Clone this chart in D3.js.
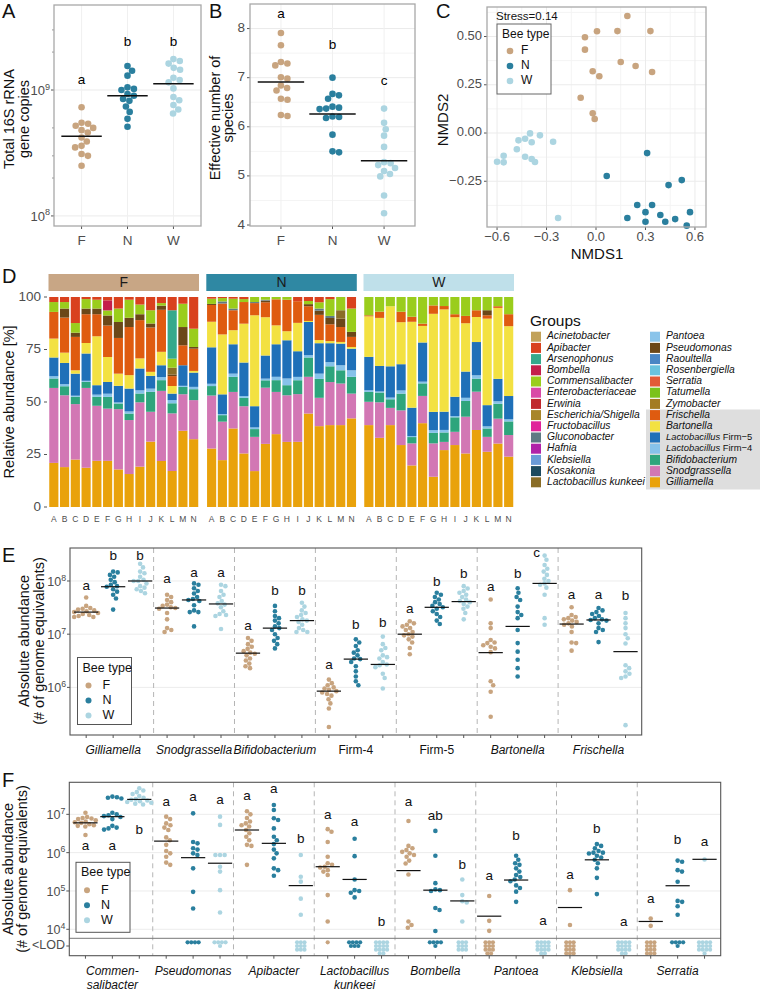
<!DOCTYPE html>
<html><head><meta charset="utf-8">
<script src="https://cdn.jsdelivr.net/npm/d3@7"></script>
<style>body{margin:0;background:#fff;} svg{display:block;}</style>
</head><body><svg id="c" width="760" height="992"></svg>
<script>
// ---------------- DATA ----------------
const beeTypes = ["F","N","W"];
const beeColor = {F:"#c8a47f", N:"#2a7f9e", W:"#acd5e1"};

// Panel A: total 16S rRNA gene copies
const aF = [7.3e8,5.5e8,5.4e8,5.2e8,5.0e8,4.8e8,4.6e8,4.2e8,3.9e8,3.6e8,3.5e8,3.1e8,3.0e8,2.5e8];
const aN = [1.55e9,1.42e9,1.3e9,1.05e9,1.02e9,1.0e9,9.3e8,9.0e8,8.5e8,8.2e8,7.4e8,6.7e8,5.9e8,5.1e8];
const aW = [1.76e9,1.7e9,1.62e9,1.5e9,1.45e9,1.25e9,1.2e9,1.15e9,1.03e9,8.8e8,8.3e8,7.6e8,7.0e8,6.5e8];
const aMedians = [4.3e8, 9.0e8, 1.12e9];
const aLetters = ["a","b","b"];
const aLetterY = [1.2e9, 2.37e9, 2.37e9];

// Panel B: effective number of species
const bF = [7.91,7.66,7.32,7.29,7.25,7.01,6.98,6.84,6.79,6.74,6.57,6.55,6.24,6.22];
const bN = [7.0,6.67,6.64,6.57,6.41,6.39,6.37,6.36,6.21,6.2,6.18,5.84,5.5,5.48];
const bW = [6.37,6.08,5.95,5.82,5.59,5.28,5.26,5.22,5.16,5.1,5.04,4.99,4.6,4.24];
const bMedians = [6.91, 6.26, 5.31];
const bLetters = ["a","b","c"];
const bLetterY = [8.29, 7.66, 6.92];

// Panel C: NMDS
const cFx = [-0.067,0.006,-0.067,-0.02,0.02,-0.093,-0.02,-0.008,0.19,0.13,0.33,0.15,0.24,0.34];
const cFy = [0.496,0.527,0.432,0.32,0.294,0.183,0.102,0.073,0.606,0.528,0.528,0.368,0.347,0.316];
const cNx = [0.065,0.31,0.52,0.44,0.25,0.34,0.3,0.39,0.57,0.48,0.19,0.3,0.42,0.55];
const cNy = [-0.223,-0.104,-0.244,-0.27,-0.373,-0.373,-0.41,-0.425,-0.41,-0.446,-0.44,-0.46,-0.46,-0.48];
const cWx = [-0.60,-0.56,-0.56,-0.48,-0.47,-0.43,-0.40,-0.39,-0.43,-0.39,-0.37,-0.34,-0.26,-0.23];
const cWy = [-0.149,-0.118,-0.152,-0.084,-0.038,-0.030,-0.002,-0.048,-0.123,-0.135,-0.150,-0.012,-0.045,-0.44];
const cXTicks = [-0.6,-0.3,0,0.3,0.6];
const cYTicks = [-0.25,0,0.25,0.5];

// Panel D: relative abundance (bars F A..N, N A..N, W A..N)
const groupNames = ["Acinetobacter","Apibacter","Arsenophonus","Bombella","Commensalibacter","Enterobacteriaceae","Erwinia","Escherichia/Shigella","Fructobacillus","Gluconobacter","Hafnia","Klebsiella","Kosakonia","Lactobacillus kunkeei","Pantoea","Pseudomonas","Raoultella","Rosenbergiella","Serratia","Tatumella","Zymobacter","Frischella","Bartonella","Lactobacillus Firm\u22125","Lactobacillus Firm\u22124","Bifidobacterium","Snodgrassella","Gilliamella"];
const groupColors = ["#c2a25a","#d9411e","#35a98c","#c41f4b","#9acd1c","#d94aa6","#c0282e","#a8862a","#e0239a","#5f7a84","#b023a8","#6a9bd8","#1c4a5f","#8a6d27","#8ac4ea","#6b4718","#4a86c4","#6ac3de","#e25b37","#7ac21a","#a37c22","#df5b10","#f3e142","#1f70b8","#86c2ea","#2ea57c","#d277b4","#e9a20b"];
const dSamples = ["A","B","C","D","E","F","G","H","I","J","K","L","M","N"];
const dGilliamella = [21,19,22.6,18.7,22,22,17.9,15.7,19.2,31.1,21.9,17.1,36.3,32.3, 27.9,22.3,37.4,25.5,17.1,30,34.7,31,31,44.5,38.5,39,39,42.2, 39,33.1,39,29.5,19.8,40,14.4,27.1,29.5,25.5,36.6,26.3,30.3,24];
const dSnodgrassella = [35.7,34.2,26.4,38,26.2,24.9,28.7,25.7,30.6,14.2,33.4,27.4,17.4,18.6, 25.3,18.3,17.4,22.5,16.3,26.7,20.1,22.2,22.7,17.5,13.5,20.5,19.8,11.8, 11.1,17,8.2,16.5,10.5,13,15.9,3.9,6.3,17.5,18.2,7.1,11.9,10.3];
const dBifidobacterium = [4.5,4.3,3.5,2.9,4.3,5.6,2.7,3.1,4.2,9.5,5.1,4.8,3.5,5.2, 4.5,3.1,7.2,4,3.7,3.5,5.6,4.8,6.6,9.2,9,7.5,6.3,8, 4.7,4.7,4.1,8,3,6,5,4.5,6.9,7.5,6.2,4,7.1,6.5];
const dFirm4 = [1.1,1,0.5,0.5,1,1.5,0.5,1,1.5,1.5,1.5,1.5,0.5,1.1, 1.1,0.5,1.5,0.8,0.8,0.8,1.6,3.2,1.6,1.1,2.5,2,2.4,3.1, 0.8,0.5,0.8,1.5,0.5,0.8,1.3,1.2,0.6,1.5,1.6,1,1.2,1];
const dFirm5 = [8.9,10.1,10.5,13,4.5,5.6,7.9,10.9,10.4,6.1,5.6,3.1,9.8,6.8, 17.4,9.4,14,16,10.1,11,15.5,18.2,12.2,15.8,14.5,9,10.3,10.3, 15.9,12.2,14.9,12.5,13.5,18.7,8.7,8.7,9.2,12.5,15.8,10.1,10.7,11.1];
const dBartonella = [9,4.9,1.6,5,23.3,11.9,5.8,6.4,4.8,1.9,6.4,3.6,0,0.8, 12.2,28.5,6.7,18.5,43.3,18.2,9,4.3,13.5,0.5,1.5,1,0.8,0.8, 19.3,23,28.6,20,40.9,7.9,46.7,48.7,37.9,23,11.9,41.2,33.9,33.3];
const dFrischella = [12.7,16.7,15.9,13.7,10.5,15,17,22.9,18.2,21.1,20,4.7,9.5,10.6, 8,14.7,9.5,10.3,5.8,7.1,12.4,15,10.3,7,12,8,7.1,4.8, 0.5,3,0,5,2.4,1.1,4,1.6,1.4,3.5,3.2,1.6,0.8,5.7];
const dPseudomonas = [0,4.3,2,2.7,2.7,4.8,7.6,4.4,2.8,1.9,2,0.8,8.7,0.8, 0.5,0,0,0,0,0.8,0,0,0,1,2,3,4,2.4, 0,0,0,0,0,0,0,0,0,0,0,2.4,0,0];
const dKunkeei = [0,0,0,0,0,0,0,0,0,0,0,3.2,0,0, 0,0,0,0,0,0,0,0,0,0,0,0,4,0, 0,0,0,0,0,0,0,0,0,0,0,0,0,0];
const dCommensalibacter = [4.7,3.1,4.6,4.5,4.2,2.4,6.4,8.6,4.6,6.3,1.2,4.3,11.1,8.7, 2.5,1.6,4.7,1.4,2.4,1.3,1.1,1.3,0,1.5,3,8,6.3,11.1, 8.7,7,4.4,7,9.4,12.7,4,4.3,8.2,9,6.3,6.3,4.4,8.2];
const dGluconobacter = [0,0,0,0,0,0,0,0,0,0,0,0,0,0, 0,1,0.8,0,0.5,0.4,0,0,0,0,1,1,0,0, 0,0,0,0,0,0,0,0,0,0,0,0,0,0];
const dArsenophonus = [0,0,0,0,0,0,0,0,0,0,0,23,0,0, 0,0,0,0,0,0,0,0,0,0,0,0,0,0, 0,0,0,0,0,0,0,0,0,0,0,0,0,0];
const dBombella = [0,0,0,0,0,4.8,0,0,0,0,0,0,0,0, 0,0,0,0,0,0,0,0,0,0,0,0,0,0, 0,0,0,0,0,0,0,0,0,0,0,0,0,0];
const dApibacter = [2.4,2.4,12.4,1,1.3,1.6,5.5,1.3,3.6,6.3,2.9,6.3,3.2,15.1, 0.8,0.5,0.8,1,0,0,0,0,2,1.9,2.5,1,0,5.5, 0,0,0,0,0,0,0,0,0,0,0,0,0,0];

// Panel E: absolute abundance core members [F, N, W]
const eGroups = ["Gilliamella","Snodgrassella","Bifidobacterium","Firm-4","Firm-5","Bartonella","Frischella"];
const eGilliamella = [[4.9e7,3.4e7,3.1e7,3.0e7,2.9e7,2.8e7,2.7e7,2.6e7,2.5e7,2.4e7,2.3e7,2.2e7,2.1e7,2.1e7],[1.5e8,1.45e8,1.3e8,1.2e8,1.05e8,9.5e7,8.5e7,8.0e7,7.8e7,7.0e7,6.3e7,5.5e7,4.7e7,2.9e7],[2.1e8,1.8e8,1.5e8,1.4e8,1.2e8,1.05e8,1.0e8,1.0e8,9.0e7,8.0e7,7.5e7,7.0e7,6.5e7,5.9e7]];
const eSnodgrassella = [[5.5e7,5.0e7,4.4e7,4.0e7,3.6e7,3.4e7,3.2e7,3.1e7,3.0e7,2.5e7,1.9e7,1.3e7,1.2e7,1.1e7],[9e7,8.5e7,7.3e7,6.5e7,5.8e7,5.0e7,4.6e7,4.4e7,4.2e7,3.5e7,2.8e7,2.6e7,2.6e7,1.4e7],[8.5e7,8.0e7,6.5e7,5.5e7,5.0e7,4.2e7,3.8e7,3.6e7,3.2e7,2.7e7,2.4e7,2.3e7,2.2e7,1.25e7]];
const eBifidobacterium = [[8.5e6,7.5e6,6.5e6,5.8e6,5.3e6,4.8e6,4.5e6,4.3e6,4.0e6,3.5e6,3.2e6,2.8e6,2.5e6,2.3e6],[3.4e7,2.7e7,2.2e7,2.0e7,1.8e7,1.6e7,1.4e7,1.3e7,1.2e7,1.0e7,8.5e6,7.5e6,6.5e6,5.4e6],[3.9e7,3.3e7,2.8e7,2.5e7,2.3e7,2.1e7,1.9e7,1.8e7,1.7e7,1.5e7,1.3e7,1.2e7,1.1e7,1.1e7]];
const eFirm4 = [[1.4e6,1.2e6,1.1e6,1.0e6,9.5e5,9e5,8.5e5,8e5,7.5e5,7e5,6e5,5e5,4e5,1.8e5],[8e6,7e6,6e6,5e6,4.5e6,4e6,3.5e6,3.4e6,3e6,2.5e6,2e6,1.6e6,1.3e6,1.1e6],[9e6,6.5e6,5.5e6,5e6,4e6,3.7e6,3.5e6,3e6,2.7e6,2.6e6,2.4e6,1.8e6,1.5e6,9.5e5]];
const eFirm5 = [[1.75e7,1.6e7,1.5e7,1.4e7,1.3e7,1.2e7,1.1e7,1.0e7,9.5e6,9e6,8e6,7e6,5.5e6,4.2e6],[6e7,5.5e7,5e7,4.5e7,4e7,3.7e7,3.4e7,3.2e7,3e7,2.7e7,2.4e7,2.1e7,1.8e7,1.55e7],[8e7,7.2e7,6.5e7,6e7,5.5e7,5e7,4.5e7,4.2e7,4e7,3.7e7,3.3e7,3e7,2.5e7,1.9e7]];
const eBartonella = [[4.5e7,1.6e7,1.3e7,7.8e6,7e6,6.8e6,6.2e6,5.8e6,5.4e6,4.6e6,1.3e6,1.1e6,8.3e5,2.8e5],[7.3e7,6e7,5e7,4.4e7,3.3e7,2.6e7,2.3e7,2e7,1.2e7,6.8e6,4.7e6,3.3e6,2.3e6,1.6e6],[3e8,2.5e8,2e8,1.7e8,1.5e8,1.3e8,1.1e8,1e8,9e7,8.5e7,7.5e7,5.5e7,2e7,1.5e7]];
const eFrischella = [[3.2e7,2.3e7,2.1e7,2e7,1.9e7,1.8e7,1.7e7,1.6e7,1.5e7,1.4e7,1.1e7,7e6,6.8e6,4.9e6],[3.1e7,2.8e7,2.6e7,2.4e7,2.2e7,2e7,1.9e7,1.85e7,1.8e7,1.6e7,1.3e7,1.2e7,1.1e7,7.1e6],[2.5e7,2e7,1.6e7,1.3e7,1e7,8.4e6,6.7e6,2.6e6,2.3e6,2e6,1.8e6,1.6e6,1.5e6,1.95e5]];
const eMedians = [[2.6e7,7.8e7,1.0e8],[3.1e7,4.4e7,3.7e7],[4.4e6,1.3e7,1.8e7],[8.5e5,3.4e6,2.7e6],[1.0e7,3.2e7,4.1e7],[4.5e6,1.4e7,9e7],[1.55e7,1.85e7,4.7e6]];
const eLetters = [["a","b","b"],["a","a","a"],["a","b","b"],["a","b","b"],["a","b","b"],["a","b","c"],["a","a","b"]];
const eLetterLog = [[7.893,8.457,8.457],[8.032,8.145,8.145],[7.141,7.8,7.8],[6.42,7.173,7.205],[7.468,7.976,8.13],[7.88,8.13,8.51],[7.737,7.737,7.705]];

// Panel F: absolute abundance non-core members [F, N, W]; 0 = below limit of detection
const fGroups = ["Commensalibacter","Pseudomonas","Apibacter","Lactobacillus kunkeei","Bombella","Pantoea","Klebsiella","Serratia"];
const fCommensalibacter = [[1.1e7,8.5e6,8e6,7.8e6,7.5e6,7e6,6.5e6,6.2e6,6e6,5.5e6,5.2e6,5e6,4.8e6,2.9e6],[2.9e7,2.8e7,2.7e7,2.6e7,1.1e7,1e7,9.5e6,9e6,8.5e6,7.5e6,5e6,4.5e6,4.3e6,4e6],[4.8e7,4.2e7,3.8e7,3.4e7,3e7,2.7e7,2.5e7,2.4e7,2.3e7,2.2e7,2.1e7,2e7,1.9e7,1.8e7]];
const fPseudomonas = [[8.7e6,7.5e6,5.8e6,5.2e6,4.5e6,3.9e6,2.5e6,2.1e6,1.6e6,1.1e6,9.6e5,7.8e5,5.5e5,4.8e5],[1.06e7,1.9e6,1.75e6,1.3e6,1.2e6,9.6e5,8.7e5,3.9e5,9.5e4,3.5e4,0,0,0,0],[8.7e6,5.3e6,8.7e5,8.7e5,8.7e5,4.3e5,3.2e5,1.05e5,2.75e4,0,0,0,0,0]];
const fApibacter = [[1.2e7,1e7,8e6,6.5e6,5.8e6,5.2e6,4.8e6,3.9e6,3.2e6,2.6e6,2.1e6,1.6e6,1.5e6,4.8e5],[1.75e7,1.3e7,7.9e6,7.1e6,4.3e6,2.6e6,2.1e6,1.67e6,1.2e6,9.6e5,7.1e5,3.9e5,3.5e5,2.5e5],[8.7e5,2.35e5,1.75e5,6.3e4,2.4e4,0,0,0,0,0,0,0,0,0]];
const fKunkeei = [[4.1e6,3.5e6,1.9e6,7.8e5,5.3e5,4.8e5,4.3e5,4.1e5,3.5e5,3.2e5,2.6e5,7.8e4,1.6e4,0],[2.3e6,8.1e5,2e5,1.05e5,1e5,9e4,6.8e4,0,0,0,0,0,0,0],[0,0,0,0,0,0,0,0,0,0,0,0,0,0]];
const fBombella = [[6.7e6,1.5e6,1.3e6,1.17e6,1.05e6,9.6e5,8.7e5,7.8e5,6.2e5,5.2e5,2.7e5,1.6e4,1.3e4,1.1e4],[3.7e6,8.3e5,1.6e5,1.1e5,1.05e5,1e5,3.6e4,3.2e4,9e3,0,0,0,0,0],[2e5,7.8e4,5.4e4,5e4,1.6e4,0,0,0,0,0,0,0,0,0]];
const fPantoea = [[7.4e4,1.66e4,9.1e3,0,0,0,0,0,0,0,0,0,0,0],[8.3e5,6.5e5,5.3e5,4.8e5,3.9e5,3.2e5,2.6e5,2.3e5,2e5,1.8e5,1.4e5,1.2e5,9.6e4,5.2e4],[0,0,0,0,0,0,0,0,0,0,0,0,0,0]];
const fKlebsiella = [[1.05e5,1.3e4,0,0,0,0,0,0,0,0,0,0,0,0],[1.67e6,1.5e6,1.3e6,1.1e6,1e6,1e6,9.5e5,8.3e5,7.5e5,6.5e5,5.3e5,3.9e5,2.2e5,8.3e4],[0,0,0,0,0,0,0,0,0,0,0,0,0,0]];
const fSerratia = [[1.9e4,1.23e4,0,0,0,0,0,0,0,0,0,0,0,0],[6.2e5,5.8e5,3.5e5,3.2e5,1.74e5,5.5e4,5.2e4,4e4,2.4e4,0,0,0,0,0],[6.6e5,0,0,0,0,0,0,0,0,0,0,0,0,0]];
const fMedians = [[6e6,8.7e6,2.45e7],[2e6,7.4e5,5.3e5],[3.9e6,1.75e6,1.38e5],[4.3e5,2e5,null],[3.4e5,1.05e5,5.5e4],[2.2e4,1.93e5,null],[3.7e4,6.5e5,null],[1.6e4,1.37e5,6.7e5]];
const fLetters = [["a","a","b"],["a","a","a"],["a","a","b"],["a","a","b"],["a","ab","b"],["a","b","a"],["a","b","a"],["a","b","a"]];
const fLetterLog = [[6.172,6.172,6.59],[7.303,7.444,7.373],[7.478,7.653,6.347],[6.982,6.781,4.17],[7.313,6.937,5.658],[5.371,6.433,4.196],[5.397,6.608,4.18],[4.781,6.311,6.269]];

// ---------------- DRAWING ----------------
const FONT = "'Liberation Sans', Arial, Helvetica, sans-serif";
const TXT = "#4d4d4d";
const svg = d3.select("#c").attr("font-family", FONT);

function swarm(vals, yFn, r) {
  const d = 2 * r;
  const pts = vals.map(v => ({v, y: yFn(v)})).sort((a, b) => a.y - b.y);
  const placed = [];
  for (const p of pts) {
    const near = placed.filter(q => Math.abs(q.y - p.y) < d);
    const cands = [0];
    for (const q of near) {
      const dx = Math.sqrt(d * d - (q.y - p.y) ** 2);
      cands.push(q.dx + dx + 0.01, q.dx - dx - 0.01);
    }
    cands.sort((a, b) => Math.abs(a) - Math.abs(b) || b - a);
    let best = 0;
    for (const c of cands) {
      if (near.every(q => (q.dx - c) ** 2 + (q.y - p.y) ** 2 >= d * d - 0.05)) { best = c; break; }
    }
    p.dx = best; placed.push(p);
  }
  return placed;
}

function powLabel(g, x, y, exp, size) {
  const t = g.append("text").attr("x", x).attr("y", y).attr("text-anchor", "end")
    .attr("font-size", size).attr("fill", TXT);
  t.append("tspan").text("10");
  t.append("tspan").attr("dy", -size * 0.42).attr("font-size", size * 0.7).text(exp);
  return t;
}

function panelLetter(txt, x, y) {
  svg.append("text").attr("x", x).attr("y", y).attr("font-size", 20).attr("fill", "#111").text(txt);
}

function rotTitle(lines, xs, cy, size) {
  lines.forEach((l, i) => {
    svg.append("text").attr("transform", `translate(${xs[i]},${cy}) rotate(-90)`)
      .attr("text-anchor", "middle").attr("dominant-baseline", "middle")
      .attr("font-size", size).attr("fill", "#111").text(l);
  });
}

// ---------- Panel A ----------
(function () {
  const g = svg.append("g");
  const x0 = 54, x1 = 201, y0 = 5, y1 = 226;
  const x = d3.scalePoint().domain(beeTypes).range([x0, x1]).padding(0.6);
  const y = d3.scaleLog().domain([Math.pow(10, 7.92), Math.pow(10, 9.675)]).range([y1, y0]);
  const step = x.step();
  [1e8, 1e9].forEach(v => g.append("line").attr("x1", x0).attr("x2", x1).attr("y1", y(v)).attr("y2", y(v)).attr("stroke", "#ebebeb"));
  beeTypes.forEach(b => g.append("line").attr("x1", x(b)).attr("x2", x(b)).attr("y1", y0).attr("y2", y1).attr("stroke", "#f0f0f0"));
  const sets = [aF, aN, aW];
  beeTypes.forEach((b, i) => {
    swarm(sets[i], y, 3.3).forEach(p => g.append("circle").attr("cx", x(b) + p.dx).attr("cy", p.y).attr("r", 3.3).attr("fill", beeColor[b]));
    g.append("line").attr("x1", x(b) - 0.44 * step).attr("x2", x(b) + 0.44 * step)
      .attr("y1", y(aMedians[i])).attr("y2", y(aMedians[i])).attr("stroke", "#111").attr("stroke-width", 1.5);
    g.append("text").attr("x", x(b)).attr("y", y(aLetterY[i])).attr("text-anchor", "middle")
      .attr("dominant-baseline", "middle").attr("font-size", 13.5).text(aLetters[i]);
    g.append("line").attr("x1", x(b)).attr("x2", x(b)).attr("y1", y1).attr("y2", y1 + 3).attr("stroke", "#555");
    g.append("text").attr("x", x(b)).attr("y", 245).attr("text-anchor", "middle").attr("font-size", 13.5).attr("fill", TXT).text(b);
  });
  [2e8, 3e8, 5e8, 2e9, 3e9].forEach(v => g.append("line").attr("x1", x0 - 2).attr("x2", x0).attr("y1", y(v)).attr("y2", y(v)).attr("stroke", "#999"));
  [[1e8, 8], [1e9, 9]].forEach(([v, e]) => {
    g.append("line").attr("x1", x0 - 3).attr("x2", x0).attr("y1", y(v)).attr("y2", y(v)).attr("stroke", "#555");
    powLabel(g, 50, y(v) + 5, e, 13);
  });
  g.append("rect").attr("x", x0).attr("y", y0).attr("width", x1 - x0).attr("height", y1 - y0)
    .attr("fill", "none").attr("stroke", "#a8a8a8").attr("stroke-width", 1.3);
  rotTitle(["Total 16S rRNA", "gene copies"], [10, 25], 119, 14.5);
  panelLetter("A", 2, 18);
})();

// ---------- Panel B ----------
(function () {
  const g = svg.append("g");
  const x0 = 250, x1 = 415, y0 = 4, y1 = 226;
  const x = d3.scalePoint().domain(beeTypes).range([x0, x1]).padding(0.6);
  const y = d3.scaleLinear().domain([3.98, 8.5]).range([y1, y0]);
  const step = x.step();
  [4.5, 5.5, 6.5, 7.5].forEach(v => g.append("line").attr("x1", x0).attr("x2", x1).attr("y1", y(v)).attr("y2", y(v)).attr("stroke", "#f4f4f4"));
  [5, 6, 7, 8].forEach(v => g.append("line").attr("x1", x0).attr("x2", x1).attr("y1", y(v)).attr("y2", y(v)).attr("stroke", "#ebebeb"));
  beeTypes.forEach(b => g.append("line").attr("x1", x(b)).attr("x2", x(b)).attr("y1", y0).attr("y2", y1).attr("stroke", "#f0f0f0"));
  const sets = [bF, bN, bW];
  beeTypes.forEach((b, i) => {
    swarm(sets[i], y, 3.3).forEach(p => g.append("circle").attr("cx", x(b) + p.dx).attr("cy", p.y).attr("r", 3.3).attr("fill", beeColor[b]));
    g.append("line").attr("x1", x(b) - 0.45 * step).attr("x2", x(b) + 0.45 * step)
      .attr("y1", y(bMedians[i])).attr("y2", y(bMedians[i])).attr("stroke", "#111").attr("stroke-width", 1.5);
    g.append("text").attr("x", x(b)).attr("y", y(bLetterY[i])).attr("text-anchor", "middle")
      .attr("dominant-baseline", "middle").attr("font-size", 13.5).text(bLetters[i]);
    g.append("line").attr("x1", x(b)).attr("x2", x(b)).attr("y1", y1).attr("y2", y1 + 3).attr("stroke", "#555");
    g.append("text").attr("x", x(b)).attr("y", 245).attr("text-anchor", "middle").attr("font-size", 13.5).attr("fill", TXT).text(b);
  });
  [4, 5, 6, 7, 8].forEach(v => {
    g.append("line").attr("x1", x0 - 3).attr("x2", x0).attr("y1", y(v)).attr("y2", y(v)).attr("stroke", "#555");
    g.append("text").attr("x", 245).attr("y", y(v)).attr("text-anchor", "end").attr("dominant-baseline", "middle")
      .attr("font-size", 13.5).attr("fill", TXT).text(v);
  });
  g.append("rect").attr("x", x0).attr("y", y0).attr("width", x1 - x0).attr("height", y1 - y0)
    .attr("fill", "none").attr("stroke", "#a8a8a8").attr("stroke-width", 1.3);
  rotTitle(["Effective number of", "species"], [216, 229], 118, 14.5);
  panelLetter("B", 209, 18);
})();

// ---------- Panel C ----------
(function () {
  const g = svg.append("g");
  const x0 = 487, x1 = 706, y0 = 7, y1 = 227;
  const x = d3.scaleLinear().domain([-0.661, 0.667]).range([x0, x1]);
  const y = d3.scaleLinear().domain([-0.487, 0.653]).range([y1, y0]);
  [-0.45, -0.15, 0.15, 0.45].forEach(v => g.append("line").attr("x1", x(v)).attr("x2", x(v)).attr("y1", y0).attr("y2", y1).attr("stroke", "#f4f4f4"));
  [-0.375, -0.125, 0.125, 0.375, 0.625].forEach(v => g.append("line").attr("x1", x0).attr("x2", x1).attr("y1", y(v)).attr("y2", y(v)).attr("stroke", "#f4f4f4"));
  cXTicks.forEach(v => g.append("line").attr("x1", x(v)).attr("x2", x(v)).attr("y1", y0).attr("y2", y1).attr("stroke", "#ebebeb"));
  cYTicks.forEach(v => g.append("line").attr("x1", x0).attr("x2", x1).attr("y1", y(v)).attr("y2", y(v)).attr("stroke", "#ebebeb"));
  const sets = [[cFx, cFy], [cNx, cNy], [cWx, cWy]];
  beeTypes.forEach((b, i) => {
    sets[i][0].forEach((vx, j) => g.append("circle").attr("cx", x(vx)).attr("cy", y(sets[i][1][j])).attr("r", 3.3).attr("fill", beeColor[b]));
  });
  const fmt = v => (v < 0 ? "\u2212" : "") + Math.abs(v).toFixed(1);
  const fmtY = v => (v < 0 ? "\u2212" : "") + Math.abs(v).toFixed(2);
  cXTicks.forEach(v => {
    g.append("line").attr("x1", x(v)).attr("x2", x(v)).attr("y1", y1).attr("y2", y1 + 3).attr("stroke", "#555");
    g.append("text").attr("x", x(v)).attr("y", 241).attr("text-anchor", "middle").attr("font-size", 13).attr("fill", TXT).text(fmt(v));
  });
  cYTicks.forEach(v => {
    g.append("line").attr("x1", x0 - 3).attr("x2", x0).attr("y1", y(v)).attr("y2", y(v)).attr("stroke", "#555");
    g.append("text").attr("x", 482).attr("y", y(v)).attr("text-anchor", "end").attr("dominant-baseline", "middle")
      .attr("font-size", 13).attr("fill", TXT).text(fmtY(v));
  });
  g.append("rect").attr("x", x0).attr("y", y0).attr("width", x1 - x0).attr("height", y1 - y0)
    .attr("fill", "none").attr("stroke", "#a8a8a8").attr("stroke-width", 1.3);
  // legend
  g.append("text").attr("x", 496).attr("y", 20).attr("font-size", 11.5).attr("fill", "#111").text("Stress=0.14");
  g.append("rect").attr("x", 497).attr("y", 24).attr("width", 54).attr("height", 70).attr("fill", "#fff").attr("stroke", "#666");
  g.append("text").attr("x", 502).attr("y", 38).attr("font-size", 12).attr("fill", "#111").text("Bee type");
  beeTypes.forEach((b, i) => {
    g.append("circle").attr("cx", 510).attr("cy", 51 + i * 15).attr("r", 3.3).attr("fill", beeColor[b]);
    g.append("text").attr("x", 521).attr("y", 51 + i * 15).attr("dominant-baseline", "middle").attr("font-size", 12).attr("fill", "#111").text(b);
  });
  svg.append("text").attr("x", 597).attr("y", 259).attr("text-anchor", "middle").attr("font-size", 15).attr("fill", "#111").text("NMDS1");
  rotTitle(["NMDS2"], [444], 120, 15);
  panelLetter("C", 436, 18);
})();

// ---------- Panel D ----------
(function () {
  const g = svg.append("g");
  const series = {
    "Gilliamella": dGilliamella, "Snodgrassella": dSnodgrassella, "Bifidobacterium": dBifidobacterium,
    "Lactobacillus Firm\u22124": dFirm4, "Lactobacillus Firm\u22125": dFirm5, "Bartonella": dBartonella,
    "Frischella": dFrischella, "Pseudomonas": dPseudomonas, "Lactobacillus kunkeei": dKunkeei,
    "Gluconobacter": dGluconobacter, "Commensalibacter": dCommensalibacter, "Bombella": dBombella,
    "Arsenophonus": dArsenophonus, "Apibacter": dApibacter
  };
  const keys = groupNames.slice().reverse();
  const color = d3.scaleOrdinal().domain(groupNames).range(groupColors);
  const rows = d3.range(42).map(i => { const r = {}; keys.forEach(k => r[k] = series[k] ? series[k][i] : 0); return r; });
  const stacked = d3.stack().keys(keys).offset(d3.stackOffsetExpand)(rows);
  const y = d3.scaleLinear().domain([0, 1]).range([507, 297]);
  const facetRanges = {F: [48.5, 199], N: [206.3, 356.8], W: [363.5, 514]};
  const stripCol = {F: "#c8a685", N: "#2f88a3", W: "#bfe0ea"};
  const bandOf = {};
  beeTypes.forEach(b => {
    const [a, c] = facetRanges[b];
    bandOf[b] = d3.scaleBand().domain(dSamples).range([a, c]).paddingInner(0.15).paddingOuter(0.07);
    g.append("rect").attr("x", a).attr("y", 274).attr("width", c - a).attr("height", 17).attr("fill", stripCol[b]);
    g.append("text").attr("x", (a + c) / 2).attr("y", 283).attr("text-anchor", "middle").attr("dominant-baseline", "middle")
      .attr("font-size", 14).attr("fill", "#1a1a1a").text(b);
  });
  stacked.forEach(layer => {
    layer.forEach((seg, i) => {
      if (seg[1] - seg[0] <= 0) return;
      const b = beeTypes[Math.floor(i / 14)], s = dSamples[i % 14];
      const band = bandOf[b];
      g.append("rect").attr("x", band(s)).attr("width", band.bandwidth())
        .attr("y", y(seg[1])).attr("height", y(seg[0]) - y(seg[1])).attr("fill", color(layer.key));
    });
  });
  beeTypes.forEach(b => dSamples.forEach(s => {
    const band = bandOf[b];
    g.append("text").attr("x", band(s) + band.bandwidth() / 2).attr("y", 522).attr("text-anchor", "middle")
      .attr("font-size", 8.5).attr("fill", TXT).text(s);
  }));
  [0, 25, 50, 75, 100].forEach(v => {
    g.append("line").attr("x1", 44).attr("x2", 47).attr("y1", y(v / 100)).attr("y2", y(v / 100)).attr("stroke", "#555");
    g.append("text").attr("x", 41).attr("y", y(v / 100)).attr("text-anchor", "end").attr("dominant-baseline", "middle")
      .attr("font-size", 13.5).attr("fill", TXT).text(v);
  });
  rotTitle(["Relative abundance [%]"], [10], 402, 14.5);
  panelLetter("D", 2, 283);
  // legend
  g.append("rect").attr("x", 646).attr("y", 409.5).attr("width", 114).attr("height", 80).attr("fill", "#dedede");
  g.append("text").attr("x", 530).attr("y", 326).attr("font-size", 15.5).attr("fill", "#111").text("Groups");
  groupNames.forEach((name, i) => {
    const col = i < 14 ? 0 : 1, row = i % 14;
    const kx = col === 0 ? 531 : 650, ky = 336.7 + row * 11.2;
    g.append("rect").attr("x", kx).attr("y", ky - 5).attr("width", 10).attr("height", 10).attr("fill", groupColors[i]);
    const isFirm = name.indexOf("Firm") >= 0;
    const t = g.append("text").attr("x", kx + 16).attr("y", ky).attr("dominant-baseline", "middle")
      .attr("font-size", isFirm ? 9.4 : 10.3).attr("fill", "#111");
    if (isFirm) {
      t.append("tspan").attr("font-style", "italic").text("Lactobacillus");
      t.append("tspan").text(" " + name.split(" ")[1]);
    } else {
      t.attr("font-style", "italic").text(name);
    }
  });
})();

// ---------- Panels E & F ----------
function dotPanel(o) {
  const g = svg.append("g");
  const keys = [];
  o.groups.forEach((n, gi) => beeTypes.forEach(b => keys.push(gi + "_" + b)));
  const x = d3.scalePoint().domain(keys).range([o.x0, o.x1]).padding(0.6);
  const step = x.step();
  const y = o.y;
  o.grid.forEach(v => g.append("line").attr("x1", o.x0).attr("x2", o.x1).attr("y1", y(v)).attr("y2", y(v)).attr("stroke", "#ececec"));
  o.groups.forEach((n, gi) => {
    if (gi < o.groups.length - 1) {
      const sx = x(gi + "_W") + step / 2;
      g.append("line").attr("x1", sx).attr("x2", sx).attr("y1", o.y0).attr("y2", o.y1)
        .attr("stroke", "#b5b5b5").attr("stroke-dasharray", "5,4").attr("stroke-width", 1);
    }
  });
  if (o.lodY !== undefined) {
    g.append("line").attr("x1", o.x0).attr("x2", o.x1).attr("y1", o.lodY).attr("y2", o.lodY).attr("stroke", "#777");
  }
  const r = 2.3;
  o.groups.forEach((n, gi) => {
    beeTypes.forEach((b, bi) => {
      const cx = x(gi + "_" + b);
      const vals = o.data[gi][bi];
      const det = vals.filter(v => v > 0);
      swarm(det, y, r).forEach(p => g.append("circle").attr("cx", cx + p.dx).attr("cy", p.y).attr("r", r).attr("fill", beeColor[b]));
      const nLod = vals.length - det.length;
      if (nLod > 0) {
        const ncol = nLod > 12 ? 4 : (nLod > 8 ? 3 : 4);
        for (let k = 0; k < nLod; k++) {
          const row = Math.floor(k / ncol), colI = k % ncol;
          const inRow = Math.min(ncol, nLod - row * ncol);
          g.append("circle").attr("cx", cx + (colI - (inRow - 1) / 2) * 3.7)
            .attr("cy", o.lodY + 4 + row * 3.7).attr("r", 2.1).attr("fill", beeColor[b]);
        }
      }
      const m = o.medians[gi][bi];
      if (m) g.append("line").attr("x1", cx - 0.45 * step).attr("x2", cx + 0.45 * step).attr("y1", y(m)).attr("y2", y(m))
        .attr("stroke", "#111").attr("stroke-width", 1.2);
      const lshift = (o.letters[gi][bi] === "c" && o.groups[gi] === "Bartonella") ? -8 : 0;
      g.append("text").attr("x", cx + lshift).attr("y", y(Math.pow(10, o.letterLog[gi][bi]))).attr("text-anchor", "middle")
        .attr("dominant-baseline", "middle").attr("font-size", 13.5).attr("fill", "#111").text(o.letters[gi][bi]);
      g.append("line").attr("x1", cx).attr("x2", cx).attr("y1", o.y1).attr("y2", o.y1 + 3).attr("stroke", "#555");
    });
    const lines = o.labels[gi];
    lines.forEach((l, li) => {
      g.append("text").attr("x", x(gi + "_N")).attr("y", o.y1 + 19 + li * 14).attr("text-anchor", "middle")
        .attr("font-size", 12).attr("font-style", o.italic[gi] ? "italic" : "normal").attr("fill", "#111").text(l);
    });
  });
  o.yTicks.forEach(([v, e]) => {
    g.append("line").attr("x1", o.x0 - 3).attr("x2", o.x0).attr("y1", y(v)).attr("y2", y(v)).attr("stroke", "#555");
    powLabel(g, o.x0 - 4, y(v) + 5, e, 12.5);
  });
  g.append("rect").attr("x", o.x0).attr("y", o.y0).attr("width", o.x1 - o.x0).attr("height", o.y1 - o.y0)
    .attr("fill", "none").attr("stroke", "#555").attr("stroke-width", 1.1);
  // legend
  const L = o.legend;
  g.append("rect").attr("x", L.x).attr("y", L.y).attr("width", 54).attr("height", L.h).attr("fill", "#fff").attr("stroke", "#555");
  g.append("text").attr("x", L.x + 5).attr("y", L.y + 14).attr("font-size", 12.5).attr("fill", "#111").text("Bee type");
  beeTypes.forEach((b, i) => {
    g.append("circle").attr("cx", L.x + 11).attr("cy", L.y + 28 + i * 15).attr("r", 3).attr("fill", beeColor[b]);
    g.append("text").attr("x", L.x + 25).attr("y", L.y + 28 + i * 15).attr("dominant-baseline", "middle")
      .attr("font-size", 12.5).attr("fill", "#111").text(b);
  });
  return g;
}

// Panel E
dotPanel({
  x0: 70, x1: 641.7, y0: 548, y1: 735,
  y: d3.scaleLog().domain([Math.pow(10, 5.105), Math.pow(10, 8.62)]).range([735, 548]),
  groups: eGroups,
  data: [eGilliamella, eSnodgrassella, eBifidobacterium, eFirm4, eFirm5, eBartonella, eFrischella],
  medians: eMedians, letters: eLetters, letterLog: eLetterLog,
  labels: eGroups.map(n => [n]), italic: eGroups.map(n => n.indexOf("Firm") < 0),
  grid: [1e6, 1e7, 1e8], yTicks: [[1e6, 6], [1e7, 7], [1e8, 8]],
  legend: {x: 77.5, y: 657.5, h: 67}
});
rotTitle(["Absolute abundance", "(# of genome equivalents)"], [25, 40], 641, 14.5);
panelLetter("E", 2, 562);

// Panel F
const fPanel = dotPanel({
  x0: 69.3, x1: 720.7, y0: 782.3, y1: 955.7,
  y: d3.scaleLog().domain([Math.pow(10, 3.765), Math.pow(10, 7.836)]).range([938.3, 782.3]),
  groups: fGroups,
  data: [fCommensalibacter, fPseudomonas, fApibacter, fKunkeei, fBombella, fPantoea, fKlebsiella, fSerratia],
  medians: fMedians, letters: fLetters, letterLog: fLetterLog,
  labels: [["Commen-", "salibacter"], ["Pseudomonas"], ["Apibacter"], ["Lactobacillus", "kunkeei"], ["Bombella"], ["Pantoea"], ["Klebsiella"], ["Serratia"]],
  italic: fGroups.map(() => true),
  grid: [1e4, 1e5, 1e6, 1e7], yTicks: [[1e4, 4], [1e5, 5], [1e6, 6], [1e7, 7]],
  lodY: 938.3,
  legend: {x: 76, y: 862.3, h: 70}
});
fPanel.append("line").attr("x1", 66.3).attr("x2", 69.3).attr("y1", 946).attr("y2", 946).attr("stroke", "#555");
fPanel.append("text").attr("x", 65).attr("y", 946).attr("text-anchor", "end").attr("dominant-baseline", "middle")
  .attr("font-size", 12.5).attr("fill", TXT).text("<LOD");
rotTitle(["Absolute abundance", "(# of genome equivalents)"], [9, 23], 869, 14.5);
panelLetter("F", 2, 787);
</script></body></html>
